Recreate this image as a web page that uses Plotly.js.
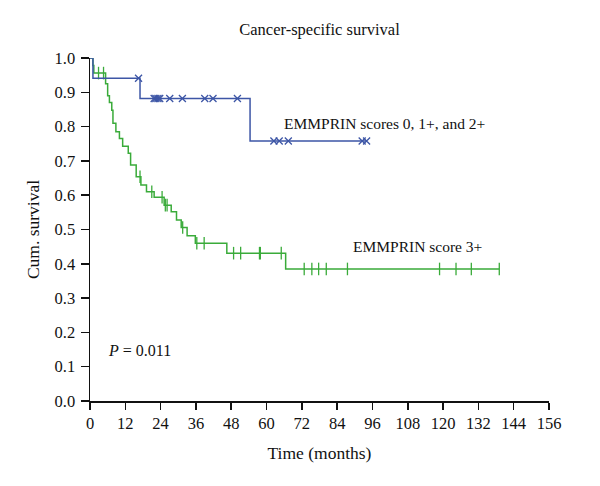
<!DOCTYPE html>
<html>
<head>
<meta charset="utf-8">
<script src="https://cdn.plot.ly/plotly-3.0.1.min.js"></script>
<style>html,body{margin:0;padding:0;background:#fff;}#chart{width:600px;height:486px;}</style>
</head>
<body>
<div id="chart"></div>
<script>
// Blue group: EMMPRIN scores 0, 1+, and 2+
const blueEventTimes = [1.0, 17.0, 54.4];
const blueEventSurv  = [0.941, 0.882, 0.758];
const blueCensorTimes = [16.5, 21.8, 22.4, 23.1, 23.7, 27.1, 31.4, 39.0, 41.8, 50.1, 62.5, 64.3, 67.4, 92.5, 94.0];

// Green group: EMMPRIN score 3+
const greenEventTimes = [1.0, 1.3, 5.3, 6.0, 6.6, 7.4, 7.8, 8.8, 10.0, 11.1, 13.0, 13.8, 15.7, 17.3, 19.2, 21.8, 25.2, 27.6, 29.4, 31.0, 33.0, 35.8, 46.5, 66.5];
const greenEventSurv  = [0.978, 0.956, 0.925, 0.89, 0.87, 0.848, 0.81, 0.785, 0.765, 0.743, 0.722, 0.688, 0.654, 0.630, 0.610, 0.594, 0.571, 0.552, 0.528, 0.506, 0.482, 0.460, 0.431, 0.385];
const greenCensorTimes = [2.9, 4.6, 17.0, 21.0, 24.5, 25.6, 26.2, 31.5, 36.3, 38.8, 48.8, 51.2, 57.6, 57.9, 65.0, 72.8, 75.4, 77.7, 80.3, 87.5, 118.8, 124.4, 129.6, 139.1];

const xTickVals = [0, 12, 24, 36, 48, 60, 72, 84, 96, 108, 120, 132, 144, 156];
const yTickVals = [0, 0.1, 0.2, 0.3, 0.4, 0.5, 0.6, 0.7, 0.8, 0.9, 1.0];

const blueColor = '#3d56a6';
const greenColor = '#3aab3a';

function survAt(t, times, surv) {
  let s = 1.0;
  for (let i = 0; i < times.length; i++) { if (times[i] <= t) s = surv[i]; }
  return s;
}
function stepTrace(times, surv, censors, color) {
  const end = Math.max(times[times.length - 1], censors[censors.length - 1]);
  return {
    x: [0].concat(times, [end]),
    y: [1.0].concat(surv, [surv[surv.length - 1]]),
    mode: 'lines', line: {shape: 'hv', color: color, width: 1.5},
    cliponaxis: false, hoverinfo: 'skip', showlegend: false, type: 'scatter'
  };
}
function censorTrace(times, evT, evS, color, symbol, size) {
  return {
    x: times, y: times.map(t => survAt(t, evT, evS)),
    mode: 'markers', marker: {symbol: symbol, size: size, color: color, line: {color: color, width: 1.3}},
    cliponaxis: false, showlegend: false, type: 'scatter'
  };
}

const font = 'Liberation Serif, DejaVu Serif, serif';
const data = [
  stepTrace(greenEventTimes, greenEventSurv, greenCensorTimes, greenColor),
  censorTrace(greenCensorTimes, greenEventTimes, greenEventSurv, greenColor, 'line-ns-open', 9),
  stepTrace(blueEventTimes, blueEventSurv, blueCensorTimes, blueColor),
  censorTrace(blueCensorTimes, blueEventTimes, blueEventSurv, blueColor, 'x-thin-open', 7)
];

const layout = {
  width: 600, height: 486,
  margin: {l: 90, r: 51, t: 58, b: 85},
  paper_bgcolor: '#fff', plot_bgcolor: '#fff',
  font: {family: font, color: '#111', size: 16},
  title: {text: 'Cancer-specific survival', font: {family: font, size: 16.5, color: '#111'}, xref: 'paper', x: 0.5, xanchor: 'center', y: 0.94, yanchor: 'middle'},
  xaxis: {
    range: [0, 156], tickvals: xTickVals, ticktext: xTickVals.map(String),
    showgrid: false, zeroline: false, showline: true, linecolor: '#111', linewidth: 1.5,
    ticks: 'outside', ticklen: 7, tickwidth: 1.5, tickcolor: '#111',
    tickfont: {family: font, size: 16.5, color: '#111'},
    title: {text: 'Time (months)', font: {family: font, size: 17.5, color: '#111'}, standoff: 14}
  },
  yaxis: {
    range: [0, 1.0], tickvals: yTickVals, ticktext: yTickVals.map(v => v.toFixed(1)),
    showgrid: false, zeroline: false, showline: true, linecolor: '#111', linewidth: 1.5,
    ticks: 'outside', ticklen: 8, tickwidth: 1.5, tickcolor: '#111',
    ticklabelstandoff: 2,
    tickfont: {family: font, size: 16.5, color: '#111'},
    title: {text: 'Cum. survival', font: {family: font, size: 17.5, color: '#111'}, standoff: 10}
  },
  annotations: [
    {x: 65.3, y: 0.81, xref: 'x', yref: 'y', xanchor: 'left', yanchor: 'middle', showarrow: false,
     text: 'EMMPRIN scores 0, 1+, and 2+', font: {family: font, size: 15.5, color: '#111'}},
    {x: 88.8, y: 0.45, xref: 'x', yref: 'y', xanchor: 'left', yanchor: 'middle', showarrow: false,
     text: 'EMMPRIN score 3+', font: {family: font, size: 15.5, color: '#111'}},
    {x: 5.6, y: 0.148, xref: 'x', yref: 'y', xanchor: 'left', yanchor: 'middle', showarrow: false,
     text: '<i>P</i> = 0.011', font: {family: font, size: 16, color: '#111'}}
  ]
};

Plotly.newPlot('chart', data, layout, {staticPlot: true, displayModeBar: false});
</script>
</body>
</html>
